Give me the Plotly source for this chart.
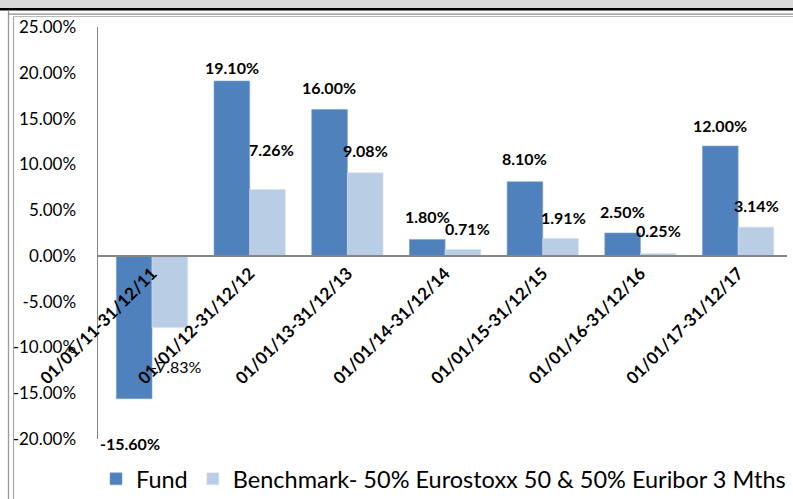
import plotly.graph_objects as go

# ---------------- data ----------------
categories = [
    "01/01/11-31/12/11", "01/01/12-31/12/12", "01/01/13-31/12/13",
    "01/01/14-31/12/14", "01/01/15-31/12/15", "01/01/16-31/12/16",
    "01/01/17-31/12/17",
]
fund = [-15.60, 19.10, 16.00, 1.80, 8.10, 2.50, 12.00]
benchmark = [-7.83, 7.26, 9.08, 0.71, 1.91, 0.25, 3.14]
series_names = ["Fund", "Benchmark- 50% Eurostoxx 50 & 50% Euribor 3 Mths"]
y_ticks = [-20, -15, -10, -5, 0, 5, 10, 15, 20, 25]

# ---------------- style ----------------
W, H = 793, 499
ML, MR, MT, MB = 98, 6, 27, 60
PW, PH = W - ML - MR, H - MT - MB
FUND_C = "#4F81BD"
BENCH_C = "#B9CDE5"
AXIS_C = "#868686"
FONT = "Lato"
BAR_HALF = 18  # px offset of each bar centre from category centre

# label offsets in px (style only)
fund_dx = [-4, 0, 0, 0, 0, 0, 0]
fund_dy = [-45, 14, 22, 23, 23, 22, 21]
bench_dx = [6, 4, 0, 4, 3, 0, 0]
bench_dy = [-39, 40, 22, 21, 21, 23, 22]
bench_bold = [False, True, True, True, True, True, True]


def px_x(p):
    return (p - ML) / PW


def px_y(p):
    return (H - MB - p) / PH


fig = go.Figure()
fig.add_trace(go.Bar(x=categories, y=fund, name=series_names[0],
                     marker=dict(color=FUND_C, line=dict(color="#7DA1D0", width=0.6))))
fig.add_trace(go.Bar(x=categories, y=benchmark, name=series_names[1],
                     marker=dict(color=BENCH_C, line=dict(color="#D3E0F0", width=0.6))))

annotations = []
for i, c in enumerate(categories):
    annotations.append(dict(
        x=c, y=fund[i], xref="x", yref="y", showarrow=False,
        text=f"{fund[i]:.2f}%", xanchor="center", yanchor="middle",
        xshift=-BAR_HALF + fund_dx[i], yshift=fund_dy[i],
        font=dict(family=FONT, size=16, color="#000000", weight="bold"),
    ))
    annotations.append(dict(
        x=c, y=benchmark[i], xref="x", yref="y", showarrow=False,
        text=f"{benchmark[i]:.2f}%", xanchor="center", yanchor="middle",
        xshift=BAR_HALF + bench_dx[i], yshift=bench_dy[i],
        font=dict(family=FONT, size=16, color="#000000",
                  weight="bold" if bench_bold[i] else "normal"),
    ))

shapes = [
    # top grey band and dark rule
    dict(type="rect", xref="paper", yref="paper", x0=px_x(0), x1=px_x(W),
         y0=px_y(0), y1=px_y(8.5), fillcolor="#D9D9D9", line=dict(width=0)),
    dict(type="line", xref="paper", yref="paper", x0=px_x(0), x1=px_x(W),
         y0=px_y(9.2), y1=px_y(9.2), line=dict(color="#000000", width=2.5)),
    # outer frame
    dict(type="line", xref="paper", yref="paper", x0=px_x(8.5), x1=px_x(8.5),
         y0=px_y(10.5), y1=px_y(H), line=dict(color="#9A9A9A", width=1.3)),
    dict(type="line", xref="paper", yref="paper", x0=px_x(8.5), x1=px_x(W),
         y0=px_y(14.2), y1=px_y(14.2), line=dict(color="#8C8C8C", width=1.3)),
    # inner frame
    dict(type="line", xref="paper", yref="paper", x0=px_x(13.5), x1=px_x(13.5),
         y0=px_y(16.5), y1=px_y(H), line=dict(color="#A8A8A8", width=1.2)),
    dict(type="line", xref="paper", yref="paper", x0=px_x(13.5), x1=px_x(W),
         y0=px_y(16.5), y1=px_y(16.5), line=dict(color="#B8B8B8", width=1.2)),
]

fig.update_layout(
    width=W, height=H, autosize=False,
    margin=dict(l=ML, r=MR, t=MT, b=MB, pad=0, autoexpand=False),
    paper_bgcolor="white", plot_bgcolor="white",
    barmode="group", bargap=0.27, bargroupgap=0,
    font=dict(family=FONT, color="#000000"),
    showlegend=True,
    legend=dict(orientation="h", x=px_x(96), y=px_y(479), xanchor="left",
                yanchor="middle", font=dict(family=FONT, size=23.5, color="#000000"),
                itemwidth=30, bgcolor="rgba(0,0,0,0)", traceorder="normal"),
    annotations=annotations,
    shapes=shapes,
)
fig.update_yaxes(
    range=[-20, 25], tickvals=y_ticks, ticktext=[f"{v:.2f}%" for v in y_ticks],
    showgrid=False, zeroline=False, showline=True, linecolor=AXIS_C, linewidth=1.5,
    ticks="", ticklabelstandoff=17, tickfont=dict(family=FONT, size=17, color="#000000"),
    automargin=False, fixedrange=True,
)
fig.update_xaxes(
    anchor="free", position=20 / 45, showline=True, linecolor=AXIS_C, linewidth=2,
    showgrid=False, zeroline=False, ticks="", tickangle=-45,
    tickfont=dict(family=FONT, size=17, color="#000000", weight="bold"),
    automargin=False, fixedrange=True,
)

fig.write_html(
    "out.html",
    config={"displayModeBar": False, "staticPlot": True},
    post_script="document.body.style.margin='0px';document.body.style.overflow='hidden';",
)
